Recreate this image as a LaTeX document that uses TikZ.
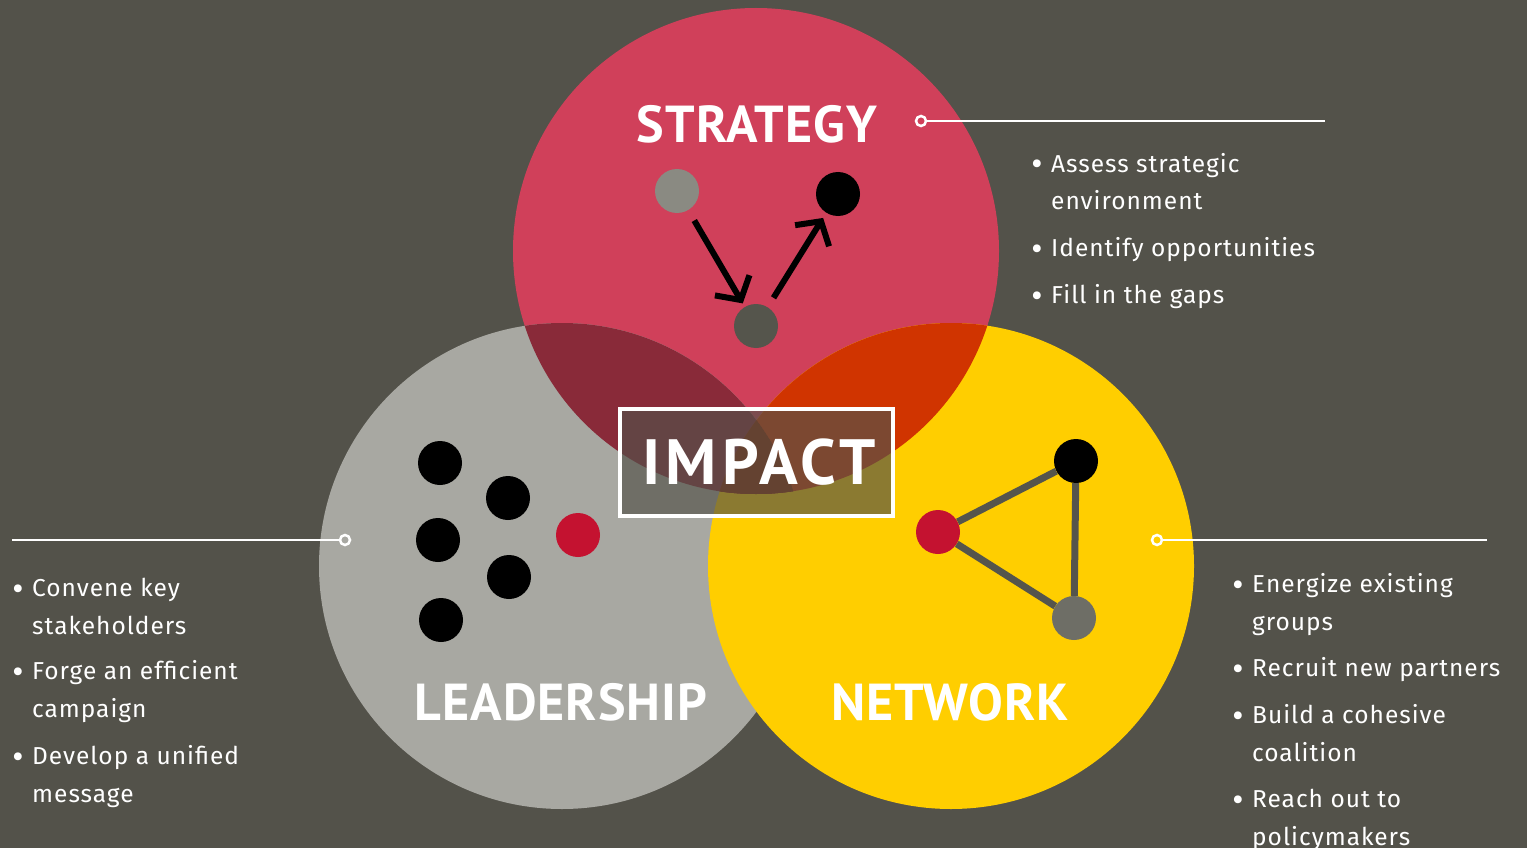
\documentclass[tikz,border=0pt]{standalone}
\usepackage{fontspec}
\setmainfont{Fira Sans}[LetterSpace=4]
\newfontfamily\titlefont{PT Sans}
\usetikzlibrary{arrows.meta}

\definecolor{bgdark}{RGB}{83,82,74}
\definecolor{stratred}{HTML}{D0405A}
\definecolor{leadgray}{HTML}{A8A8A2}
\definecolor{netyellow}{RGB}{255,206,0}
\definecolor{slmix}{HTML}{892A39}
\definecolor{snmix}{HTML}{D03400}
\definecolor{lnmix}{HTML}{A88900}
\definecolor{slnmix}{HTML}{892200}
\definecolor{dotred}{HTML}{C41230}
\definecolor{dotgray}{HTML}{8A8A82}
\definecolor{dotdark}{HTML}{55554C}
\definecolor{dotmid}{HTML}{6E6E66}

\newcommand{\bigbullet}{\llap{{\titlefont\fontsize{28}{28}\selectfont\raisebox{-1pt}{\textbullet}}\hspace{8pt}}}

\begin{document}
\begin{tikzpicture}[x=1pt, y=-1pt,
    dot/.style={circle, minimum size=44pt, inner sep=0pt},
    title/.style={text=white, anchor=base, inner sep=0pt, font=\titlefont\bfseries\addfontfeature{LetterSpace=2}\fontsize{52}{52}\selectfont},
    item/.style={text=white, anchor=base west, align=left, inner sep=0pt, font=\fontsize{24.5}{38}\selectfont},
    pin/.style={circle, draw=white, line width=2.5pt, minimum size=10pt, inner sep=0pt},
    leader/.style={white, line width=2.5pt},
    link/.style={dotdark, line width=7pt},
    move/.style={black, line width=6pt, -{Straight Barb[length=17pt, width=40pt]}}]

    % --- Canvas ---
    \useasboundingbox (0,0) rectangle (1527,848);
    \fill[bgdark] (0,0) rectangle (1527,848);
    \clip (0,0) rectangle (1527,848);

    % --- Circle centres ---
    \coordinate (cs) at (756,251);
    \coordinate (cl) at (562,566);
    \coordinate (cn) at (951,566);

    % --- The three circles ---
    \fill[stratred] (cs) circle (243pt);
    \fill[leadgray] (cl) circle (243pt);
    \fill[netyellow] (cn) circle (243pt);

    % --- Overlaps ---
    \begin{scope}
        \clip (cs) circle (243pt);
        \fill[slmix] (cl) circle (243pt);
        \fill[snmix] (cn) circle (243pt);
        \clip (cl) circle (243pt);
        \fill[slnmix] (cn) circle (243pt);
    \end{scope}
    \begin{scope}
        \clip (cl) circle (243pt);
        \clip (cn) circle (243pt);
        \fill[lnmix] (cs) ++(-300,-300) rectangle ++(600,300);
        \clip (cs) circle (243pt);
        \fill[slnmix] (cl) circle (243pt);
    \end{scope}

    % --- Strategy ---
    \node[title] (strattitle) at (757,143) {STRATEGY};
    \node[dot, fill=dotgray] (sa) at (677,191) {};
    \node[dot, fill=black] (sb) at (838,194) {};
    \node[dot, fill=dotdark] (sc) at (756,326) {};
    \draw[move, shorten <=12pt, shorten >=4pt] (sa) -- (sc);
    \draw[move, shorten <=11pt, shorten >=6pt] (sc) -- (sb);

    % --- Leadership ---
    \node[title] (leadtitle) at (561,720) {LEADERSHIP};
    \node[dot, fill=black] (la) at (440,463) {};
    \node[dot, fill=black] (lb) at (508,498) {};
    \node[dot, fill=black] (lc) at (438,540) {};
    \node[dot, fill=black] (ld) at (509,577) {};
    \node[dot, fill=black] (le) at (441,620) {};
    \node[dot, fill=dotred] (lf) at (578,535) {};

    % --- Network ---
    \node[title] (nettitle) at (950,720) {NETWORK};
    \node[dot, fill=black] (na) at (1076,461) {};
    \node[dot, fill=dotred] (nb) at (938,532) {};
    \node[dot, fill=dotmid] (nc) at (1074,618) {};
    \draw[link] (nb) -- (na);
    \draw[link] (na) -- (nc);
    \draw[link] (nc) -- (nb);

    % --- Impact box ---
    \node[draw=white, line width=4pt, fill=bgdark, fill opacity=0.67, text opacity=1,
          minimum width=273pt, minimum height=107pt, inner sep=0pt, text=white,
          font=\titlefont\bfseries\addfontfeature{LetterSpace=8}\fontsize{64}{64}\selectfont] (impact) at (756.5,462.5) {\hspace{5pt}IMPACT};

    % --- Strategy legend ---
    \node[pin] (spin) at (921,121) {};
    \coordinate (send) at (1325,121);
    \draw[leader] (spin) -- (send);
    \node[item] (s1) at (1051,210) {\bigbullet Assess strategic\\environment};
    \node[item] (s2) at (1051,256) {\bigbullet Identify opportunities};
    \node[item] (s3) at (1051,303) {\bigbullet Fill in the gaps};

    % --- Leadership legend ---
    \node[pin] (lpin) at (345,540) {};
    \coordinate (lend) at (12,540);
    \draw[leader] (lpin) -- (lend);
    \node[item] (l1) at (32,634) {\bigbullet Convene key\\stakeholders};
    \node[item] (l2) at (32,717) {\bigbullet Forge an efficient\\campaign};
    \node[item] (l3) at (32,802) {\bigbullet Develop a unified\\message};

    % --- Network legend ---
    \node[pin] (npin) at (1157,540) {};
    \coordinate (nend) at (1487,540);
    \draw[leader] (npin) -- (nend);
    \node[item] (n1) at (1252,630) {\bigbullet Energize existing\\groups};
    \node[item] (n2) at (1252,676) {\bigbullet Recruit new partners};
    \node[item] (n3) at (1252,761) {\bigbullet Build a cohesive\\coalition};
    \node[item] (n4) at (1252,845) {\bigbullet Reach out to\\policymakers};
\end{tikzpicture}
\end{document}
